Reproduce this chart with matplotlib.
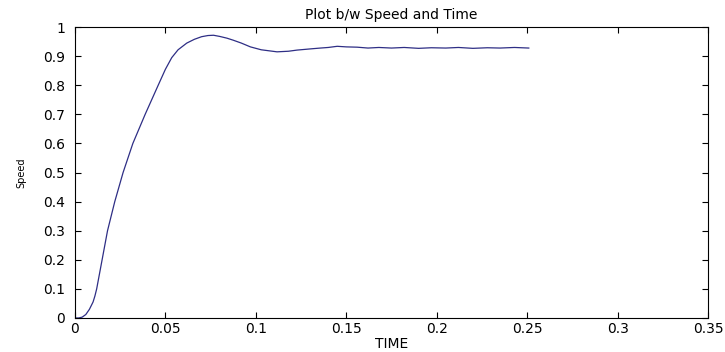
import numpy as np
import matplotlib.pyplot as plt

plt.rcParams['font.family'] = ['DejaVu Sans']

# values
time = [0, 0.002, 0.004, 0.006, 0.008, 0.010, 0.011, 0.012, 0.015, 0.018,
        0.022, 0.0266, 0.032, 0.0388, 0.046, 0.050, 0.0535, 0.057, 0.0618,
        0.066, 0.070, 0.0735, 0.0766, 0.080, 0.084, 0.0875, 0.092, 0.097,
        0.103, 0.1117, 0.118, 0.1228, 0.130, 0.1357, 0.140, 0.145, 0.150,
        0.156, 0.162, 0.168, 0.175, 0.182, 0.190, 0.197, 0.205, 0.212,
        0.220, 0.228, 0.235, 0.243, 0.2509]
speed = [0, 0.0, 0.003, 0.012, 0.03, 0.055, 0.075, 0.1, 0.2, 0.3,
         0.4, 0.5, 0.6, 0.7, 0.8, 0.855, 0.895, 0.922, 0.945,
         0.958, 0.967, 0.971, 0.972, 0.968, 0.962, 0.955, 0.945, 0.932,
         0.922, 0.915, 0.917, 0.921, 0.925, 0.928, 0.930, 0.934, 0.932,
         0.931, 0.928, 0.930, 0.928, 0.930, 0.927, 0.929, 0.928, 0.930,
         0.927, 0.929, 0.928, 0.930, 0.928]

xticks = np.arange(0, 0.351, 0.05)
yticks = np.arange(0, 1.01, 0.1)
xlabels = ['0', '0.05', '0.1', '0.15', '0.2', '0.25', '0.3', '0.35']
ylabels = ['0', '0.1', '0.2', '0.3', '0.4', '0.5', '0.6', '0.7', '0.8', '0.9', '1']

fig = plt.figure(figsize=(7.25, 3.52), dpi=100)
ax = fig.add_axes([0.1034, 0.0966, 0.8732, 0.8264])
ax.plot(time, speed, color='#2e2e85', lw=0.9)

ax.set_xlim(0, 0.35)
ax.set_ylim(0, 1)
ax.set_xticks(xticks)
ax.set_xticklabels(xlabels)
ax.set_yticks(yticks)
ax.set_yticklabels(ylabels)
ax.tick_params(direction='in', top=True, right=True, length=4, width=0.8,
               labelsize=10)
ax.tick_params(axis='x', pad=3)
ax.tick_params(axis='y', pad=7)
for s in ax.spines.values():
    s.set_linewidth(0.8)

ax.set_title('Plot b/w Speed and Time', fontsize=10, pad=6)
ax.set_xlabel('TIME', fontsize=10)
ax.xaxis.set_label_coords(0.5, -0.066)
ax.set_ylabel('Speed', fontsize=7)
ax.yaxis.set_label_coords(-0.076, 0.5)

fig.savefig('out.png', dpi=100)
